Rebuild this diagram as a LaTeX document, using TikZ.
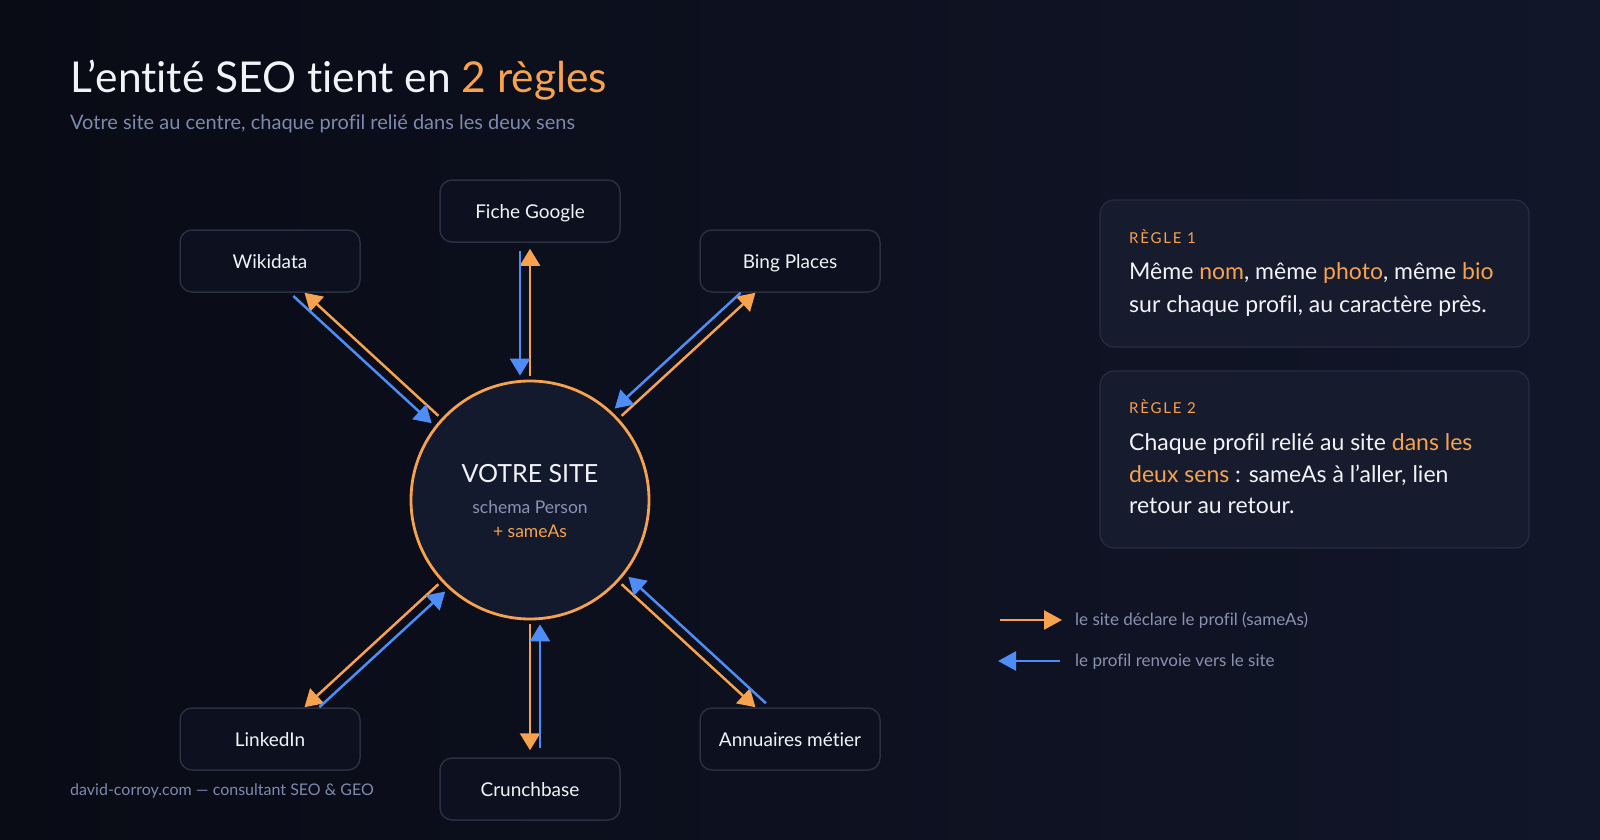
\documentclass[tikz,border=0pt]{standalone}
\usepackage{fontspec}
\setmainfont{Lato}[Ligatures=NoCommon]
\newfontfamily\spacedfont[LetterSpace=12]{Lato}
\usetikzlibrary{arrows.meta,calc}
\definecolor{bgone}{HTML}{090B15}
\definecolor{bgtwo}{HTML}{111629}
\definecolor{ora}{HTML}{F7A24F}
\definecolor{blu}{HTML}{4D8DF5}
\definecolor{boxfill}{HTML}{0D101E}
\definecolor{boxdraw}{HTML}{2A2F42}
\definecolor{panelfill}{HTML}{161B2D}
\definecolor{paneldraw}{HTML}{272D41}
\definecolor{circfill}{HTML}{141A2E}
\definecolor{subtxt}{HTML}{7D89AE}
\definecolor{legtxt}{HTML}{8A92B2}
\definecolor{maintxt}{HTML}{F2F3F7}
\tikzset{
  pbox/.style={rounded corners=12pt, minimum width=180pt, minimum height=62pt, fill=boxfill, draw=boxdraw, line width=1.5pt, text=maintxt, font=\fontsize{19}{23}\selectfont, text height=14pt, text depth=0pt, inner sep=0pt},
  panel/.style={rounded corners=14pt, fill=panelfill, draw=paneldraw, line width=1.2pt, inner sep=0pt},
  oline/.style={draw=ora, line width=2.5pt, -{Triangle[width=20pt,length=17pt]}, shorten <=4pt},
  bline/.style={draw=blu, line width=2.5pt, -{Triangle[width=20pt,length=17pt]}, shorten >=4pt},
  ruletxt/.style={anchor=base west, text=maintxt, font=\fontsize{23}{28}\selectfont, inner sep=0pt},
  rulelab/.style={anchor=base west, text=ora, font=\spacedfont\fontsize{15}{18}\selectfont, inner sep=0pt},
  legtext/.style={anchor=base west, text=legtxt, font=\fontsize{17}{20}\selectfont, inner sep=0pt}
}
\begin{document}
\begin{tikzpicture}[x=1pt,y=-1pt]
\useasboundingbox (0,0) rectangle (1600,840);
\shade[left color=bgone,right color=bgtwo] (0,0) rectangle (1600,840);

% title
\node[anchor=base west, inner sep=0pt, text=maintxt, font=\fontsize{42.5}{50}\selectfont] (title) at (70,93) {L’entité SEO tient en \textcolor{ora}{2 règles}};
\node[anchor=base west, inner sep=0pt, text=subtxt, font=\fontsize{20}{24}\selectfont] (subtitle) at (70,129) {Votre site au centre, chaque profil relié dans les deux sens};

% center
\node[circle, minimum size=238pt, draw=ora, line width=2.8pt, fill=circfill, inner sep=0pt] (c) at (530,500) {};
\node[anchor=base, inner sep=0pt, text=maintxt, font=\fontsize{25}{30}\selectfont] (ct1) at (530,482) {VOTRE SITE};
\node[anchor=base, inner sep=0pt, text=legtxt, font=\fontsize{17.5}{20}\selectfont] (ct2) at (530,513) {schema Person};
\node[anchor=base, inner sep=0pt, text=ora, font=\fontsize{17.5}{20}\selectfont] (ct3) at (530,537) {+ sameAs};

% profiles
\node[pbox] (w) at (270,261) {Wikidata};
\node[pbox] (g) at (530,211) {Fiche Google};
\node[pbox] (b) at (790,261) {Bing Places};
\node[pbox] (l) at (270,739) {LinkedIn};
\node[pbox] (cr) at (530,789) {Crunchbase};
\node[pbox] (a) at (790,739) {Annuaires métier};

% connectors
\draw[oline, shorten >=6pt] (c) -- (g);
\draw[bline, shorten <=8pt, transform canvas={shift={(-10pt,0pt)}}] (g) -- (c);
\draw[oline, shorten >=0pt] (c) -- (w);
\draw[bline, shorten <=-6pt, transform canvas={shift={(-6.77pt,-7.36pt)}}] (w) -- (c);
\draw[oline, shorten >=0pt] (c) -- (b);
\draw[bline, shorten <=11pt, transform canvas={shift={(-6.77pt,7.36pt)}}] (b) -- (c);
\draw[oline, shorten >=0pt] (c) -- (l);
\draw[bline, shorten <=11pt, transform canvas={shift={(6.77pt,-7.36pt)}}] (l) -- (c);
\draw[oline, shorten >=7pt] (c) -- (cr);
\draw[bline, shorten <=9pt, transform canvas={shift={(10pt,0pt)}}] (cr) -- (c);
\draw[oline, shorten >=0pt] (c) -- (a);
\draw[bline, shorten <=-5pt, transform canvas={shift={(6.77pt,7.36pt)}}] (a) -- (c);

% footer
\node[anchor=base west, inner sep=0pt, text=subtxt, font=\fontsize{16}{19}\selectfont] (footer) at (70,795) {david-corroy.com — consultant SEO \& GEO};

% rules panels
\node[panel, minimum width=429pt, minimum height=147pt] (r1) at (1314.5,273.5) {};
\node[panel, minimum width=429pt, minimum height=177pt] (r2) at (1314.5,459.5) {};
\node[rulelab] (r1lab) at (1129,243) {RÈGLE 1};
\node[ruletxt] (r1a) at (1129,279) {Même \textcolor{ora}{nom}, même \textcolor{ora}{photo}, même \textcolor{ora}{bio}};
\node[ruletxt] (r1b) at (1129,312) {sur chaque profil, au caractère près.};
\node[rulelab] (r2lab) at (1129,413) {RÈGLE 2};
\node[ruletxt] (r2a) at (1129,450) {Chaque profil relié au site \textcolor{ora}{dans les}};
\node[ruletxt] (r2b) at (1129,482) {\textcolor{ora}{deux sens} : sameAs à l’aller, lien};
\node[ruletxt] (r2c) at (1129,513) {retour au retour.};

% legend
\coordinate (lo1) at (1000,620);
\coordinate (lo2) at (1062,620);
\coordinate (lb1) at (1060,661);
\coordinate (lb2) at (998,661);
\draw[draw=ora, line width=2.5pt, -{Triangle[width=19pt,length=18pt]}] (lo1) -- (lo2);
\draw[draw=blu, line width=2.5pt, -{Triangle[width=19pt,length=18pt]}] (lb1) -- (lb2);
\node[legtext] (leg1) at (1075,625) {le site déclare le profil (sameAs)};
\node[legtext] (leg2) at (1075,666) {le profil renvoie vers le site};
\end{tikzpicture}
\end{document}
